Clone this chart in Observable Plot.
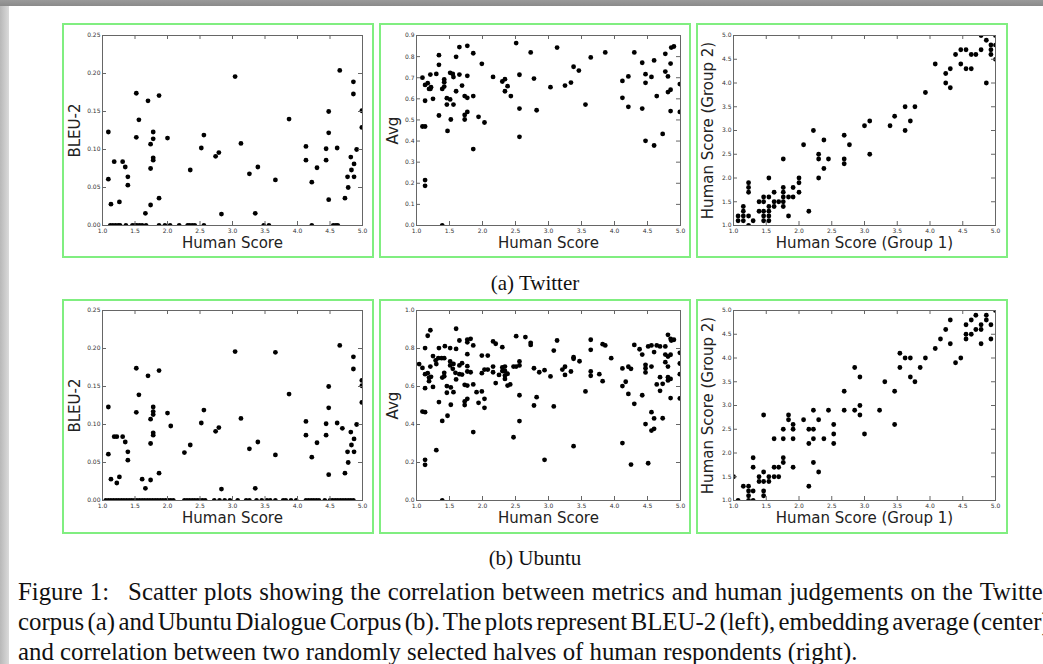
<!DOCTYPE html>
<html>
<head>
<meta charset="utf-8">
<script src="https://cdn.jsdelivr.net/npm/d3@7"></script>
<script src="https://cdn.jsdelivr.net/npm/@observablehq/plot@0.6"></script>
<style>
  html, body { margin: 0; padding: 0; background: #fff; }
  body { width: 1043px; height: 664px; overflow: hidden; position: relative; }
  .topbar { position: absolute; left: 0; top: 0; width: 1043px; height: 6px; background: linear-gradient(#9a9a9a, #8a8a8a); }
  .leftbar { position: absolute; left: 0; top: 6px; width: 9px; height: 658px; background: linear-gradient(to right, #b8b8b8, #dadada); }
  .panel { position: absolute; width: 312px; height: 235px; }
  .panel svg { position: absolute; left: 0; top: 0; }
  .box { position: absolute; left: 0; top: 0; width: 312px; height: 235px; box-sizing: border-box; border: 2px solid #80ee80; pointer-events: none; }
  .sub { position: absolute; width: 300px; text-align: center; font: 21px "Liberation Serif", serif; color: #111; line-height: 24px; }
  #caption { position: absolute; left: 18px; top: 577px; width: 1033px; font: 24.8px "Liberation Serif", serif; line-height: 30px; color: #111; }
  .jline { display: flex; justify-content: space-between; white-space: nowrap; }
  .line { white-space: nowrap; }
</style>
</head>
<body>
<div class="topbar"></div>
<div class="leftbar"></div>
<div id="root"></div>
<div class="sub" style="left:385px; top:271px;">(a) Twitter</div>
<div class="sub" style="left:385px; top:546px;">(b) Ubuntu</div>
<div id="caption"></div>
<script>
// ---------------- tick values ----------------
const xTicks = [1.0, 1.5, 2.0, 2.5, 3.0, 3.5, 4.0, 4.5, 5.0];
const bleuTicks = [0.00, 0.05, 0.10, 0.15, 0.20, 0.25];
const avgTicksTwitter = [0.0, 0.1, 0.2, 0.3, 0.4, 0.5, 0.6, 0.7, 0.8, 0.9];
const avgTicksUbuntu = [0.0, 0.2, 0.4, 0.6, 0.8, 1.0];
const humanTicks = [1.0, 1.5, 2.0, 2.5, 3.0, 3.5, 4.0, 4.5, 5.0];

// ---------------- (a) Twitter ----------------
const twitterBleu = [[1.09,0.123],[1.09,0.061],[1.13,0.028],[1.18,0.084],[1.26,0.031],[1.31,0.084],[1.35,0.077],[1.39,0.064],[1.39,0.053],[1.52,0.174],[1.52,0.116],[1.56,0.139],[1.66,0.016],[1.70,0.164],[1.74,0.107],[1.74,0.075],[1.74,0.027],[1.78,0.123],[1.78,0.114],[1.78,0.089],[1.78,0.086],[1.87,0.171],[1.87,0.036],[2.00,0.115],[2.35,0.073],[2.52,0.102],[2.56,0.119],[2.74,0.091],[2.79,0.096],[2.83,0.015],[3.04,0.196],[3.13,0.108],[3.26,0.068],[3.35,0.016],[3.39,0.077],[3.66,0.060],[3.87,0.140],[4.13,0.104],[4.13,0.086],[4.22,0.057],[4.30,0.076],[4.44,0.101],[4.44,0.086],[4.48,0.150],[4.48,0.122],[4.48,0.034],[4.61,0.102],[4.65,0.204],[4.73,0.036],[4.77,0.064],[4.78,0.050],[4.82,0.090],[4.83,0.073],[4.86,0.189],[4.86,0.173],[4.87,0.081],[4.87,0.064],[4.91,0.100],[4.99,0.151],[4.99,0.129]];
const twitterBleuZeroX = [1.12,1.16,1.20,1.24,1.27,1.36,1.46,1.50,1.53,1.57,1.61,1.67,1.87,1.96,2.04,2.18,2.31,2.34,2.38,2.42,2.56,3.48,3.56,4.22,4.55,4.59,4.62];

const twitterAvg = [[1.09,0.700],[1.09,0.469],[1.13,0.469],[1.13,0.666],[1.13,0.591],[1.13,0.215],[1.13,0.188],[1.17,0.674],[1.19,0.647],[1.21,0.647],[1.21,0.715],[1.22,0.655],[1.25,0.600],[1.30,0.718],[1.34,0.807],[1.34,0.761],[1.34,0.521],[1.39,0.0],[1.39,0.647],[1.42,0.658],[1.42,0.679],[1.42,0.692],[1.46,0.603],[1.46,0.573],[1.47,0.448],[1.51,0.723],[1.51,0.597],[1.52,0.502],[1.55,0.718],[1.56,0.703],[1.56,0.573],[1.60,0.799],[1.60,0.636],[1.65,0.845],[1.65,0.715],[1.69,0.663],[1.73,0.613],[1.73,0.524],[1.73,0.502],[1.77,0.605],[1.77,0.851],[1.77,0.709],[1.77,0.538],[1.86,0.816],[1.86,0.613],[1.86,0.362],[1.94,0.515],[1.99,0.766],[2.03,0.488],[2.16,0.704],[2.30,0.682],[2.34,0.693],[2.34,0.636],[2.38,0.660],[2.43,0.613],[2.51,0.864],[2.56,0.714],[2.56,0.554],[2.56,0.420],[2.73,0.820],[2.78,0.696],[2.82,0.546],[3.03,0.655],[3.13,0.843],[3.25,0.663],[3.34,0.677],[3.38,0.752],[3.46,0.734],[3.56,0.573],[3.64,0.796],[3.86,0.820],[4.12,0.685],[4.12,0.605],[4.21,0.706],[4.21,0.562],[4.30,0.820],[4.42,0.771],[4.42,0.554],[4.47,0.717],[4.47,0.676],[4.47,0.401],[4.56,0.704],[4.60,0.782],[4.60,0.379],[4.64,0.613],[4.73,0.434],[4.77,0.813],[4.77,0.729],[4.81,0.706],[4.81,0.632],[4.85,0.767],[4.85,0.643],[4.85,0.542],[4.86,0.843],[4.90,0.848],[4.99,0.670],[4.99,0.538]];

const twitterHuman = [[1.07,1.2],[1.07,1.1],[1.15,1.4],[1.15,1.3],[1.15,1.2],[1.15,1.1],[1.23,1.9],[1.23,1.8],[1.23,1.7],[1.23,1.2],[1.23,1.0],[1.30,1.1],[1.39,1.5],[1.39,1.3],[1.46,1.6],[1.46,1.5],[1.46,1.3],[1.46,1.2],[1.46,1.1],[1.54,2.0],[1.54,1.6],[1.54,1.4],[1.54,1.3],[1.54,1.2],[1.54,1.1],[1.62,1.7],[1.62,1.5],[1.62,1.4],[1.69,1.5],[1.76,2.4],[1.76,1.8],[1.76,1.7],[1.76,1.6],[1.76,1.5],[1.76,1.4],[1.84,1.6],[1.84,1.2],[1.91,1.8],[1.91,1.6],[2.00,2.0],[2.00,1.9],[2.00,1.7],[2.07,2.7],[2.15,1.3],[2.22,3.0],[2.30,2.5],[2.30,2.4],[2.30,2.0],[2.38,2.8],[2.38,2.2],[2.45,2.4],[2.69,2.9],[2.69,2.4],[2.69,2.3],[2.77,2.7],[3.00,3.1],[3.08,3.2],[3.08,2.5],[3.39,3.1],[3.46,3.3],[3.62,3.5],[3.62,3.0],[3.70,3.2],[3.77,3.5],[3.93,3.8],[4.08,4.4],[4.24,4.0],[4.24,4.2],[4.31,4.3],[4.31,3.9],[4.39,4.6],[4.47,4.7],[4.47,4.4],[4.55,4.7],[4.55,4.3],[4.63,4.6],[4.63,4.3],[4.70,4.6],[4.78,4.7],[4.78,5.0],[4.86,4.9],[4.86,4.0],[4.93,4.8],[4.93,4.7],[4.93,4.6],[5.0,5.0],[5.0,4.8],[5.0,4.5]];

// ---------------- (b) Ubuntu ----------------
const ubuntuBleu = [[1.09,0.123],[1.09,0.061],[1.13,0.028],[1.18,0.084],[1.22,0.084],[1.22,0.023],[1.26,0.031],[1.31,0.084],[1.35,0.077],[1.39,0.064],[1.39,0.053],[1.52,0.174],[1.52,0.116],[1.56,0.139],[1.61,0.028],[1.66,0.016],[1.70,0.164],[1.74,0.107],[1.74,0.075],[1.74,0.027],[1.78,0.123],[1.78,0.117],[1.78,0.113],[1.78,0.089],[1.78,0.086],[1.87,0.171],[1.87,0.036],[2.00,0.115],[2.05,0.098],[2.26,0.063],[2.35,0.073],[2.52,0.102],[2.56,0.119],[2.74,0.091],[2.79,0.096],[2.83,0.015],[3.04,0.196],[3.13,0.108],[3.26,0.068],[3.35,0.016],[3.39,0.077],[3.66,0.195],[3.66,0.060],[3.87,0.140],[4.13,0.104],[4.13,0.086],[4.22,0.057],[4.30,0.076],[4.44,0.101],[4.44,0.086],[4.48,0.150],[4.48,0.122],[4.48,0.034],[4.61,0.102],[4.65,0.204],[4.69,0.095],[4.73,0.036],[4.77,0.064],[4.78,0.050],[4.82,0.090],[4.83,0.073],[4.86,0.189],[4.86,0.173],[4.87,0.081],[4.87,0.064],[4.91,0.100],[4.99,0.158],[4.99,0.151],[4.99,0.129]];
const ubuntuBleuZeroX = [1.05,1.09,1.13,1.17,1.21,1.25,1.29,1.33,1.37,1.41,1.45,1.49,1.53,1.57,1.61,1.65,1.69,1.73,1.77,1.81,1.85,1.89,1.93,1.97,2.01,2.05,2.09,2.26,2.30,2.34,2.38,2.42,2.46,2.50,2.54,2.58,2.72,2.80,2.88,2.96,3.08,3.21,3.26,3.37,3.45,3.53,3.58,3.66,3.78,3.82,3.90,3.98,4.13,4.17,4.21,4.25,4.29,4.33,4.42,4.50,4.54,4.58,4.62,4.66,4.70,4.74,4.78,4.82,4.86];

const ubuntuAvg = [[1.04,0.718],[1.09,0.698],[1.09,0.468],[1.13,0.465],[1.13,0.802],[1.13,0.665],[1.13,0.591],[1.13,0.214],[1.13,0.188],[1.17,0.867],[1.17,0.670],[1.19,0.628],[1.19,0.647],[1.21,0.896],[1.21,0.705],[1.22,0.651],[1.25,0.760],[1.25,0.598],[1.29,0.737],[1.30,0.718],[1.30,0.265],[1.33,0.749],[1.34,0.802],[1.34,0.518],[1.38,0.749],[1.39,0.0],[1.39,0.419],[1.39,0.647],[1.42,0.672],[1.42,0.654],[1.42,0.749],[1.43,0.812],[1.46,0.602],[1.46,0.567],[1.47,0.446],[1.51,0.802],[1.51,0.711],[1.51,0.732],[1.52,0.595],[1.52,0.504],[1.55,0.693],[1.56,0.719],[1.56,0.570],[1.59,0.672],[1.60,0.904],[1.60,0.798],[1.60,0.637],[1.65,0.842],[1.65,0.711],[1.65,0.665],[1.69,0.723],[1.69,0.663],[1.73,0.609],[1.73,0.521],[1.73,0.502],[1.77,0.707],[1.77,0.770],[1.77,0.605],[1.77,0.847],[1.77,0.833],[1.77,0.679],[1.77,0.535],[1.82,0.851],[1.82,0.675],[1.86,0.816],[1.86,0.611],[1.86,0.360],[1.91,0.570],[1.94,0.514],[1.99,0.763],[1.99,0.670],[1.99,0.574],[2.03,0.689],[2.03,0.535],[2.03,0.488],[2.08,0.763],[2.08,0.689],[2.16,0.837],[2.16,0.705],[2.16,0.675],[2.20,0.825],[2.20,0.618],[2.25,0.661],[2.30,0.700],[2.30,0.807],[2.30,0.681],[2.34,0.705],[2.34,0.658],[2.34,0.640],[2.34,0.682],[2.38,0.667],[2.38,0.605],[2.42,0.611],[2.47,0.333],[2.47,0.705],[2.51,0.865],[2.51,0.705],[2.56,0.732],[2.56,0.711],[2.56,0.554],[2.56,0.418],[2.65,0.860],[2.73,0.830],[2.73,0.819],[2.78,0.696],[2.78,0.500],[2.82,0.544],[2.86,0.675],[2.94,0.686],[2.94,0.214],[3.03,0.653],[3.08,0.789],[3.08,0.495],[3.13,0.842],[3.21,0.689],[3.25,0.704],[3.25,0.661],[3.34,0.679],[3.38,0.754],[3.38,0.746],[3.38,0.286],[3.47,0.733],[3.56,0.574],[3.64,0.846],[3.64,0.793],[3.64,0.679],[3.64,0.656],[3.77,0.665],[3.82,0.628],[3.82,0.823],[3.86,0.816],[3.95,0.749],[4.12,0.695],[4.12,0.602],[4.12,0.302],[4.17,0.625],[4.21,0.704],[4.21,0.561],[4.25,0.693],[4.25,0.189],[4.30,0.819],[4.30,0.509],[4.38,0.796],[4.42,0.768],[4.42,0.554],[4.47,0.714],[4.47,0.696],[4.47,0.674],[4.47,0.402],[4.51,0.811],[4.51,0.196],[4.56,0.816],[4.56,0.705],[4.56,0.465],[4.56,0.368],[4.60,0.781],[4.60,0.432],[4.60,0.377],[4.64,0.816],[4.64,0.611],[4.69,0.811],[4.69,0.649],[4.69,0.577],[4.73,0.614],[4.73,0.433],[4.77,0.811],[4.77,0.768],[4.77,0.728],[4.81,0.758],[4.81,0.705],[4.81,0.872],[4.81,0.632],[4.81,0.649],[4.85,0.851],[4.85,0.767],[4.85,0.640],[4.85,0.539],[4.86,0.842],[4.90,0.846],[4.99,0.777],[4.99,0.721],[4.99,0.665],[4.99,0.537]];

const ubuntuHuman = [[1.0,1.5],[1.07,1.0],[1.15,1.3],[1.23,1.3],[1.23,1.2],[1.23,1.1],[1.23,1.0],[1.30,1.9],[1.30,1.7],[1.30,1.2],[1.30,1.0],[1.39,1.5],[1.39,1.4],[1.46,2.8],[1.46,1.6],[1.46,1.4],[1.46,1.2],[1.46,1.1],[1.54,1.5],[1.54,1.4],[1.62,2.3],[1.62,1.7],[1.62,1.5],[1.69,1.7],[1.69,1.5],[1.76,2.5],[1.76,2.3],[1.76,1.9],[1.76,1.8],[1.84,2.8],[1.84,2.7],[1.91,2.6],[1.91,2.5],[1.91,2.3],[1.91,1.7],[2.07,2.7],[2.15,2.5],[2.15,2.2],[2.15,1.3],[2.22,2.9],[2.22,2.5],[2.22,2.3],[2.22,1.8],[2.30,2.7],[2.30,1.6],[2.38,2.3],[2.45,2.9],[2.53,2.6],[2.53,2.4],[2.53,2.2],[2.69,3.3],[2.69,2.9],[2.85,3.8],[2.85,2.9],[2.93,3.6],[2.93,3.0],[2.93,2.8],[3.00,2.4],[3.23,2.9],[3.31,3.5],[3.46,3.3],[3.46,2.6],[3.54,4.1],[3.54,3.8],[3.62,4.0],[3.70,4.0],[3.70,3.6],[3.77,3.5],[3.85,3.8],[3.93,4.0],[4.08,4.2],[4.16,4.4],[4.24,4.6],[4.31,4.8],[4.31,4.3],[4.39,3.9],[4.47,4.0],[4.55,4.7],[4.55,4.5],[4.55,4.4],[4.63,4.8],[4.63,4.5],[4.70,4.9],[4.70,4.6],[4.78,4.7],[4.78,4.6],[4.78,4.3],[4.86,4.9],[4.86,4.8],[4.93,4.7],[4.93,4.4],[5.0,5.0]];

// ---------------- texts ----------------
const labels = {
  bleu: "BLEU-2", avg: "Avg", human: "Human Score",
  g1: "Human Score (Group 1)", g2: "Human Score (Group 2)"
};
const captionLines = [
  ["Figure", "1:", "Scatter", "plots", "showing", "the", "correlation", "between", "metrics", "and", "human", "judgements", "on", "the", "Twitter"],
  "corpus (a) and Ubuntu Dialogue Corpus (b). The plots represent BLEU-2 (left), embedding average (center),",
  "and correlation between two randomly selected halves of human respondents (right)."
];

// ---------------- drawing ----------------
const W = 312, H = 235;
const ink = "#666";
function panel(cfg) {
  const {data, yDomain, yTicks, yFmt, xLabel, yLabel, ml, mr, mt, mb, labelX} = cfg;
  const iw = W - ml - mr, ih = H - mt - mb;
  return Plot.plot({
    width: W, height: H,
    marginLeft: ml, marginRight: mr, marginTop: mt, marginBottom: mb,
    style: {background: "transparent", fontFamily: "DejaVu Sans", overflow: "visible"},
    x: {domain: [1, 5]},
    y: {domain: yDomain},
    marks: [
      Plot.dot(data, {x: d => d[0], y: d => d[1], r: 2.4, fill: "#000", stroke: null, clip: true}),
      Plot.frame({stroke: ink}),
      Plot.ruleX(xTicks, {x: d => d, insetTop: ih - 4, stroke: ink}),
      Plot.ruleX(xTicks, {x: d => d, insetBottom: ih - 4, stroke: ink}),
      Plot.ruleY(yTicks, {y: d => d, insetRight: iw - 4, stroke: ink}),
      Plot.ruleY(yTicks, {y: d => d, insetLeft: iw - 4, stroke: ink}),
      Plot.axisX(xTicks, {tickSize: 0, tickPadding: 3, tickFormat: d3.format(".1f"), fontSize: 6, fill: "#333", label: null}),
      Plot.axisY(yTicks, {tickSize: 0, tickPadding: 2, tickFormat: d3.format(yFmt), fontSize: 6, fill: "#333", label: null}),
      Plot.text([xLabel], {text: d => d, frameAnchor: "bottom", dy: 18, textAnchor: "middle", lineAnchor: "middle", fontSize: 15, fill: "#222"}),
      Plot.text([yLabel], {text: d => d, frameAnchor: "left", dx: -(ml - labelX), rotate: -90, textAnchor: "middle", lineAnchor: "middle", fontSize: 15, fill: "#222"})
    ]
  });
}

const rowA = {top: 23, mt: 12, mb: 33};
const rowB = {top: 299, mt: 11, mb: 34};
const cols = [
  {left: 62, ml: 40, mr: 12, labelX: 13},
  {left: 379, ml: 37, mr: 11, labelX: 14},
  {left: 696, ml: 37, mr: 13, labelX: 12}
];

const specs = [
  [rowA, cols[0], {data: twitterBleu.concat(twitterBleuZeroX.map(x => [x, 0])), yDomain: [0, 0.25], yTicks: bleuTicks, yFmt: ".2f", xLabel: labels.human, yLabel: labels.bleu}],
  [rowA, cols[1], {data: twitterAvg, yDomain: [0, 0.9], yTicks: avgTicksTwitter, yFmt: ".1f", xLabel: labels.human, yLabel: labels.avg}],
  [rowA, cols[2], {data: twitterHuman, yDomain: [1, 5], yTicks: humanTicks, yFmt: ".1f", xLabel: labels.g1, yLabel: labels.g2}],
  [rowB, cols[0], {data: ubuntuBleu.concat(ubuntuBleuZeroX.map(x => [x, 0])), yDomain: [0, 0.25], yTicks: bleuTicks, yFmt: ".2f", xLabel: labels.human, yLabel: labels.bleu}],
  [rowB, cols[1], {data: ubuntuAvg, yDomain: [0, 1.0], yTicks: avgTicksUbuntu, yFmt: ".1f", xLabel: labels.human, yLabel: labels.avg}],
  [rowB, cols[2], {data: ubuntuHuman, yDomain: [1, 5], yTicks: humanTicks, yFmt: ".1f", xLabel: labels.g1, yLabel: labels.g2}]
];

const root = document.getElementById("root");
for (const [row, col, cfg] of specs) {
  const div = document.createElement("div");
  div.className = "panel";
  div.style.left = col.left + "px";
  div.style.top = row.top + "px";
  div.appendChild(panel({...cfg, ml: col.ml, mr: col.mr, mt: row.mt, mb: row.mb, labelX: col.labelX}));
  const box = document.createElement("div");
  box.className = "box";
  div.appendChild(box);
  root.appendChild(div);
}

// caption
const cap = document.getElementById("caption");
captionLines.forEach((line, i) => {
  const el = document.createElement("div");
  if (Array.isArray(line)) {
    el.className = "jline";
    line.forEach((w, j) => {
      const s = document.createElement("span");
      s.textContent = w;
      if (j === 1) s.style.marginRight = "12px";
      el.appendChild(s);
    });
  } else {
    el.className = "line";
    el.textContent = line;
    if (i === 1) el.style.wordSpacing = "-2.8px";
  }
  cap.appendChild(el);
});
</script>
</body>
</html>
